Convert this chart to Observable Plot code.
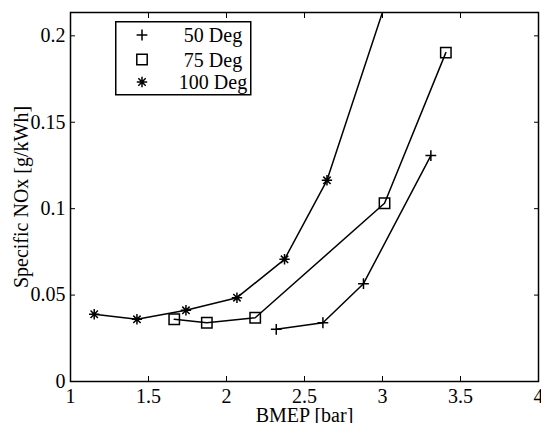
<!DOCTYPE html>
<html>
<head>
<meta charset="utf-8">
<script src="https://cdn.jsdelivr.net/npm/d3@7"></script>
<script src="https://cdn.jsdelivr.net/npm/@observablehq/plot@0.6"></script>
<style>
  html, body { margin: 0; padding: 0; background: white; }
  #wrap { position: relative; width: 541px; height: 423px; }
  #legend { position: absolute; left: 115px; top: 21px; }
</style>
</head>
<body>
<div id="wrap"></div>
<script>
// ---- data ----
const xTicks = [1, 1.5, 2, 2.5, 3, 3.5, 4];
const yTicks = [0, 0.05, 0.1, 0.15, 0.2];
const seriesNames = ["50 Deg", "75 Deg", "100 Deg"];

const bmep50 = [2.319, 2.618, 2.878, 3.310];
const nox50  = [0.0302, 0.0340, 0.0566, 0.1307];

const bmep75 = [1.665, 1.874, 2.184, 3.013, 3.406];
const nox75  = [0.0360, 0.0340, 0.0369, 0.1031, 0.1903];

const bmep100 = [1.152, 1.426, 1.740, 2.067, 2.372, 2.644, 3.10];
const nox100  = [0.0389, 0.0360, 0.0412, 0.0485, 0.0707, 0.1164, 0.241];

const xLabel = "BMEP [bar]";
const yLabel = "Specific NOx [g/kWh]";

// ---- custom MATLAB-like marker symbols ----
const symPlus = {draw(ctx, size) { const r = Math.sqrt(size / Math.PI);
  ctx.moveTo(-r, 0); ctx.lineTo(r, 0); ctx.moveTo(0, -r); ctx.lineTo(0, r); }};
const symSquare = {draw(ctx, size) { const r = Math.sqrt(size / Math.PI);
  ctx.moveTo(-r, -r); ctx.lineTo(r, -r); ctx.lineTo(r, r); ctx.lineTo(-r, r); ctx.closePath(); }};
const symStar = {draw(ctx, size) { const r = Math.sqrt(size / Math.PI); const d = r / Math.SQRT2;
  ctx.moveTo(-r, 0); ctx.lineTo(r, 0); ctx.moveTo(0, -r); ctx.lineTo(0, r);
  ctx.moveTo(-d, -d); ctx.lineTo(d, d); ctx.moveTo(-d, d); ctx.lineTo(d, -d); }};

const toRows = (xs, ys) => xs.map((x, i) => ({x, y: ys[i]}));
const s50 = toRows(bmep50, nox50);
const s75 = toRows(bmep75, nox75);
const s100 = toRows(bmep100, nox100);
const fmt = d => String(d);
const blank = () => "";

const series = [
  {data: s50, symbol: symPlus, r: 5.4},
  {data: s75, symbol: symSquare, r: 5.2},
  {data: s100, symbol: symStar, r: 5.2}
];

const marks = [];
for (const s of series) {
  marks.push(Plot.line(s.data, {x: "x", y: "y", stroke: "black", strokeWidth: 1.5, clip: true}));
  marks.push(Plot.dot(s.data, {x: "x", y: "y", symbol: () => s.symbol, r: s.r, stroke: "black", fill: "none", strokeWidth: 1.5, clip: true}));
}

const chart = Plot.plot({
  width: 541,
  height: 423,
  marginLeft: 70,
  marginRight: 3,
  marginTop: 12,
  marginBottom: 42,
  style: {fontFamily: "'Liberation Serif', 'Times New Roman', serif", fontSize: "20px", background: "white", color: "black"},
  x: {domain: [1, 4], label: null},
  y: {domain: [0, 0.2135], label: null},
  symbol: {type: "identity"},
  marks: [
    Plot.axisX(xTicks, {anchor: "bottom", tickSize: 0, tickPadding: 7, tickFormat: fmt, label: null, fontSize: 20}),
    Plot.axisX(xTicks, {anchor: "bottom", tickSize: -5, tickFormat: blank, label: null, strokeWidth: 1}),
    Plot.axisX(xTicks, {anchor: "top", tickSize: -5, tickFormat: blank, label: null, strokeWidth: 1}),
    Plot.axisY(yTicks, {anchor: "left", tickSize: 0, tickPadding: 5, tickFormat: fmt, label: null, fontSize: 20}),
    Plot.axisY(yTicks, {anchor: "left", tickSize: -5, tickFormat: blank, label: null, strokeWidth: 1}),
    Plot.axisY(yTicks, {anchor: "right", tickSize: -5, tickFormat: blank, label: null, strokeWidth: 1}),
    ...marks,
    Plot.frame({stroke: "black", strokeWidth: 1.5}),
    Plot.text([xLabel], {frameAnchor: "bottom", dy: 34, text: d => d, textAnchor: "middle", lineAnchor: "middle", fontSize: 20}),
    Plot.text([yLabel], {frameAnchor: "left", dx: -49, rotate: -90, text: d => d, textAnchor: "middle", lineAnchor: "middle", fontSize: 20})
  ]
});

const wrap = document.getElementById("wrap");
wrap.appendChild(chart);

// ---- legend (inside plot, top-left) ----
const legW = 135, legH = 73;
const leg = d3.create("svg").attr("id", "legend").attr("width", legW + 2).attr("height", legH + 2)
  .style("font-family", "'Liberation Serif', 'Times New Roman', serif").style("font-size", "20px");
leg.append("rect").attr("x", 0.75).attr("y", 0.75).attr("width", legW).attr("height", legH)
  .attr("fill", "white").attr("stroke", "black").attr("stroke-width", 1.5);
const rowY = [14, 38.5, 61];
series.forEach((s, i) => {
  leg.append("path")
    .attr("transform", `translate(27,${rowY[i]})`)
    .attr("d", d3.symbol(s.symbol, Math.PI * s.r * s.r)())
    .attr("fill", "none").attr("stroke", "black").attr("stroke-width", 1.5);
  leg.append("text").attr("x", 98).attr("y", rowY[i]).attr("dy", "0.35em")
    .attr("text-anchor", "middle").attr("fill", "black").text(seriesNames[i]);
});
wrap.appendChild(leg.node());
</script>
</body>
</html>
